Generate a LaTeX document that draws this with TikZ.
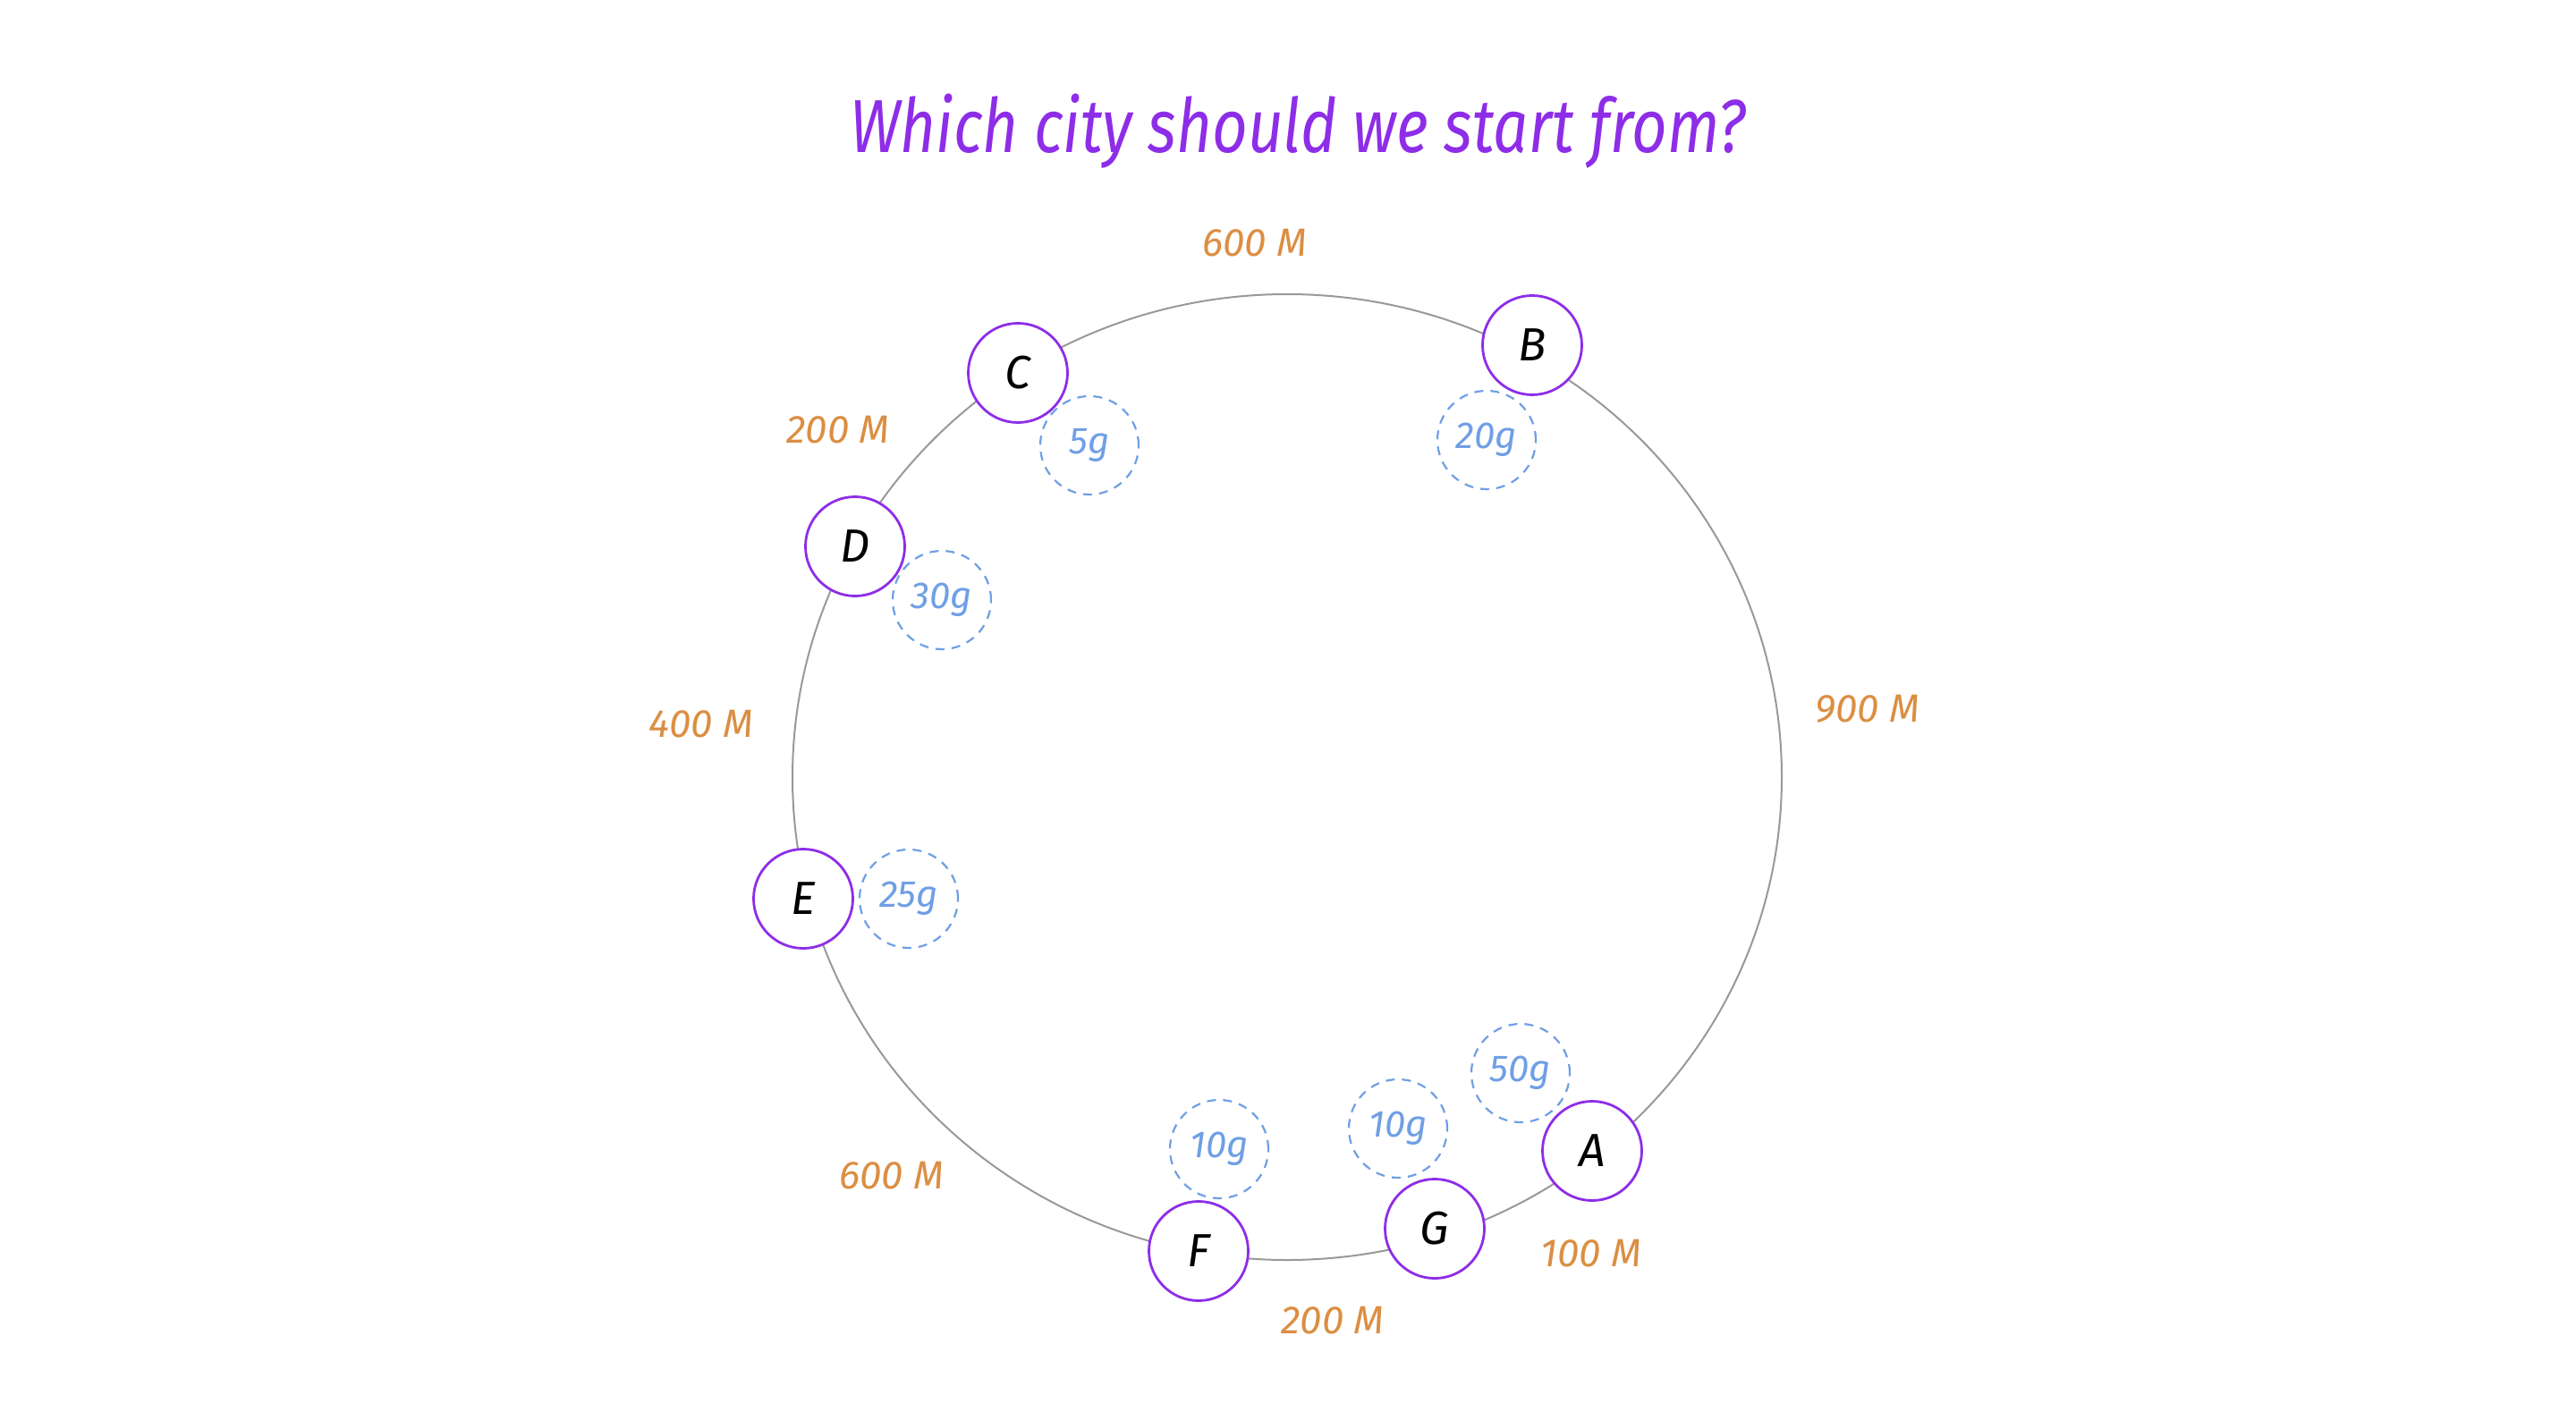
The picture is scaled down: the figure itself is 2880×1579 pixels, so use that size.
\documentclass[tikz,border=0pt]{standalone}
\usepackage{fontspec}
\setmainfont{Fira Sans}
\usetikzlibrary{positioning}
\definecolor{vio}{HTML}{8E2DE8}
\definecolor{org}{HTML}{DB8E42}
\definecolor{blu}{HTML}{6F9FE5}
\definecolor{ringgray}{HTML}{999999}
\tikzset{
  city/.style={circle, draw=vio, line width=2.8pt, fill=white, minimum size=111pt, inner sep=0pt, font=\fontsize{52}{60}\selectfont\itshape, text=black},
  weight/.style={circle, draw=blu, line width=2.2pt, dash pattern=on 10pt off 8pt, minimum size=110pt, inner sep=0pt, font=\fontsize{42}{50}\selectfont\itshape, text=blu},
  dist/.style={font=\fontsize{44}{52}\selectfont\itshape, text=org, inner sep=0pt},
  ring/.style={draw=ringgray, line width=2pt},
  titlestyle/.style={font=\fontsize{84}{96}\selectfont\itshape, text=vio, inner sep=0pt}
}
\begin{document}
\begin{tikzpicture}[x=1pt,y=-1pt]
\useasboundingbox (0,0) rectangle (2880,1579);
\fill[white] (0,0) rectangle (2880,1579);
\node[titlestyle, anchor=base] (title) at (1451,170) {\scalebox{0.82}[1]{Which city should we start from?}};
\coordinate (ctr) at (1439,869);
\draw[ring] (ctr) ellipse [x radius=553pt, y radius=540pt];
% weights
\node[weight] (wC) at (1218,498) {5g};
\node[weight] (wB) at (1662,492) {20g};
\node[weight] (wD) at (1053,671) {30g};
\node[weight] (wE) at (1016,1005) {25g};
\node[weight] (wF) at (1363,1285) {10g};
\node[weight] (wG) at (1563,1262) {10g};
\node[weight] (wA) at (1700,1200) {50g};
% cities
\node[city] (A) at (1780,1287) {A};
\node[city] (B) at (1713,386) {B};
\node[city] (C) at (1138,417) {C};
\node[city] (D) at (956,611) {D};
\node[city] (E) at (898,1005) {E};
\node[city] (F) at (1340,1399) {F};
\node[city] (G) at (1604,1374) {G};
% distances
\node[dist] (dBC) at (1403,272) {600 M};
\node[dist] (dCD) at (937,481) {200 M};
\node[dist] (dDE) at (784,810) {400 M};
\node[dist] (dAB) at (2088,793) {900 M};
\node[dist] (dEF) at (997,1315) {600 M};
\node[dist] (dFG) at (1490,1477) {200 M};
\node[dist] (dGA) at (1779,1402) {100 M};
\end{tikzpicture}
\end{document}
